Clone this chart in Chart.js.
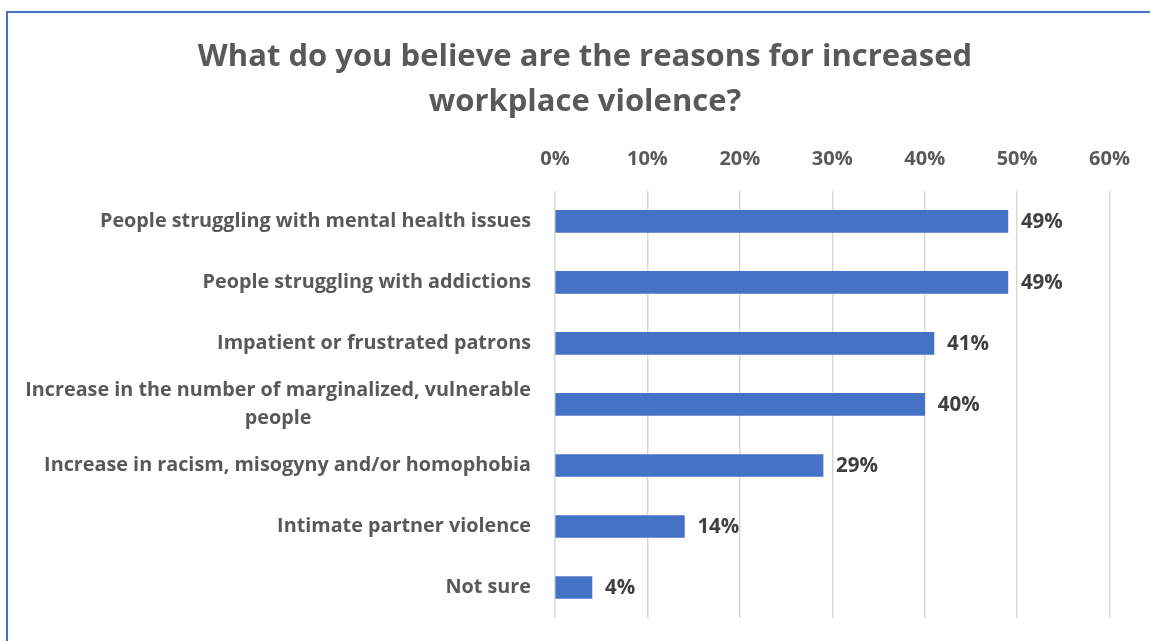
<!DOCTYPE html>
<html>
<head>
<meta charset="utf-8">
<script src="https://cdn.jsdelivr.net/npm/chart.js@4/dist/chart.umd.min.js"></script>
<style>
  html, body { margin: 0; padding: 0; background: #fff; overflow: hidden; }
  #wrap { position: relative; width: 1150px; height: 641px; }
  #frame {
    position: absolute; left: 6px; top: 11px; width: 1300px; height: 800px;
    border: 2px solid #4472C4; box-sizing: border-box;
  }
  #chart { position: absolute; left: 0; top: 0; }
</style>
</head>
<body>
<div id="wrap">
  <div id="frame"></div>
  <canvas id="chart" width="1150" height="641"></canvas>
</div>
<script>
const reasons = [
  "People struggling with mental health issues",
  "People struggling with addictions",
  "Impatient or frustrated patrons",
  ["Increase in the number of marginalized, vulnerable", "people"],
  "Increase in racism, misogyny and/or homophobia",
  "Intimate partner violence",
  "Not sure"
];
const shares = [49, 49, 41, 40, 29, 14, 4];
const xTicks = [0, 10, 20, 30, 40, 50, 60];

const FONT = "'Open Sans', Lato, sans-serif";
const PAD_LEFT = 58;

// category labels: block right-aligned, wrapped lines centered inside it
const categoryLabels = {
  id: "categoryLabels",
  afterDraw(chart) {
    const ctx = chart.ctx;
    const y = chart.scales.y;
    const right = chart.chartArea.left - 24;
    ctx.save();
    ctx.font = "bold 19.8px " + FONT;
    ctx.fillStyle = "#595959";
    ctx.textBaseline = "middle";
    ctx.textAlign = "center";
    const lh = 28;
    reasons.forEach((lab, i) => {
      const lines = Array.isArray(lab) ? lab : [lab];
      const w = Math.max(...lines.map(l => ctx.measureText(l).width));
      const cx = right - w / 2;
      const cy = y.getPixelForValue(i);
      lines.forEach((l, k) => {
        ctx.fillText(l, cx, cy + (k - (lines.length - 1) / 2) * lh);
      });
    });
    ctx.restore();
  }
};

// percentage next to each bar
const valueLabels = {
  id: "valueLabels",
  afterDatasetsDraw(chart) {
    const ctx = chart.ctx;
    const meta = chart.getDatasetMeta(0);
    ctx.save();
    ctx.font = "bold 20.5px " + FONT;
    ctx.fillStyle = "#404040";
    ctx.textBaseline = "middle";
    ctx.textAlign = "left";
    meta.data.forEach((bar, i) => {
      ctx.fillText(shares[i] + "%", bar.x + 13, bar.y + 1);
    });
    ctx.restore();
  }
};

new Chart(document.getElementById("chart"), {
  type: "bar",
  data: {
    labels: reasons,
    datasets: [{
      data: shares,
      backgroundColor: "#4472C4",
      borderWidth: 0,
      barThickness: 22
    }]
  },
  options: {
    indexAxis: "y",
    responsive: false,
    animation: false,
    layout: { padding: { left: PAD_LEFT, right: 38, top: 0, bottom: 23 } },
    plugins: {
      legend: { display: false },
      tooltip: { enabled: false },
      title: {
        display: true,
        text: ["What do you believe are the reasons for increased", "workplace violence?"],
        color: "#595959",
        font: { family: FONT, size: 31, weight: "bold", lineHeight: 1.45 },
        padding: { top: 35, bottom: 0 }
      }
    },
    scales: {
      x: {
        position: "top",
        min: 0,
        max: 60,
        afterBuildTicks: s => { s.ticks = xTicks.map(v => ({ value: v })); },
        afterFit: s => { s.height = 66; },
        border: { display: false },
        grid: { color: "#D9D9D9", lineWidth: 1.5, drawTicks: false },
        ticks: {
          padding: 20,
          color: "#595959",
          font: { family: FONT, size: 20, weight: "bold" },
          callback: v => v + "%"
        }
      },
      y: {
        afterFit: s => { s.width = 555 - PAD_LEFT; },
        border: { display: false },
        grid: { display: false },
        ticks: { display: false }
      }
    }
  },
  plugins: [categoryLabels, valueLabels]
});
</script>
</body>
</html>
